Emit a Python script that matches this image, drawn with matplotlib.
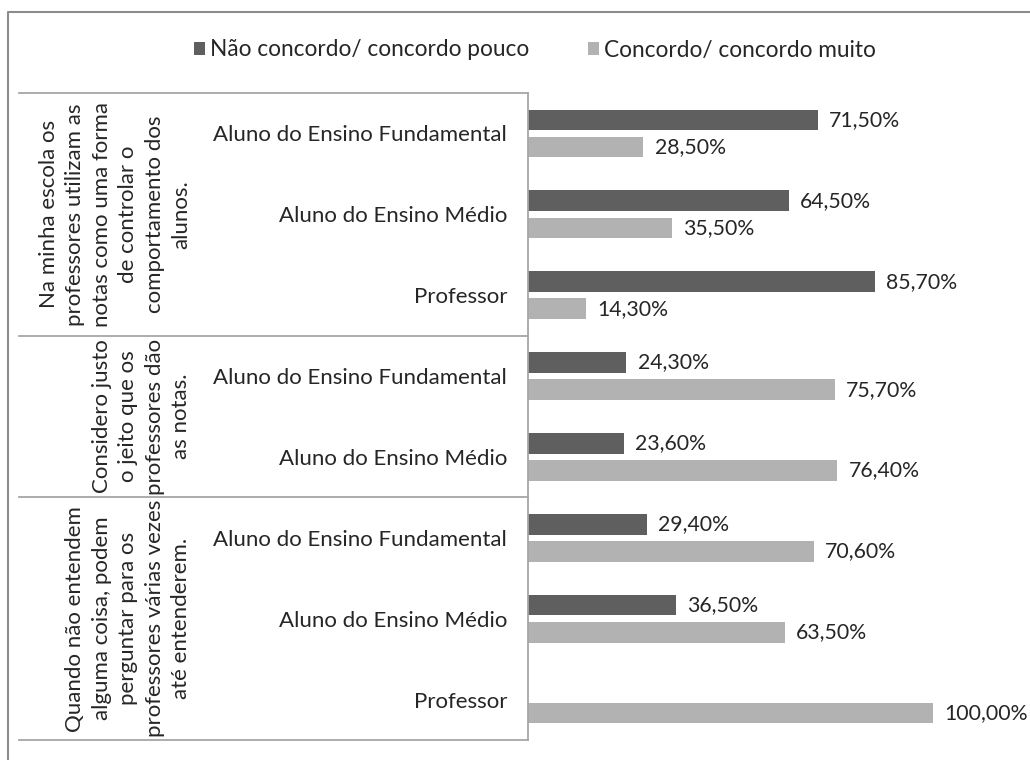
import numpy as np
import matplotlib
matplotlib.use("Agg")
import matplotlib.pyplot as plt
from matplotlib.patches import Patch
from matplotlib.lines import Line2D

# data
categories = ["Aluno do Ensino Fundamental", "Aluno do Ensino Médio", "Professor",
              "Aluno do Ensino Fundamental", "Aluno do Ensino Médio",
              "Aluno do Ensino Fundamental", "Aluno do Ensino Médio", "Professor"]
groups = ["Na minha escola os\nprofessores utilizam as\nnotas como uma forma\nde controlar o\ncomportamento dos\nalunos.",
          "Considero justo\no jeito que os\nprofessores dão\nas notas.",
          "Quando não entendem\nalguma coisa, podem\nperguntar para os\nprofessores várias vezes\naté entenderem."]
group_sizes = [3, 2, 3]
nao_concordo = [71.5, 64.5, 85.7, 24.3, 23.6, 29.4, 36.5, np.nan]
concordo = [28.5, 35.5, 14.3, 75.7, 76.4, 70.6, 63.5, 100.0]
series_names = ["Não concordo/ concordo pouco", "Concordo/ concordo muito"]

plt.rcParams['font.family'] = ['Lato', 'DejaVu Sans']
W, H = 1030, 760
fs = 16
vfs = 15.3
txt = "#262626"
dark, light = "#5f5f5f", "#b2b2b2"
linec = "#a6a6a6"

fig = plt.figure(figsize=(W / 100, H / 100), dpi=100)
ax_l, ax_r, ax_t, ax_b = 528, 1020, 93, 740
ax = fig.add_axes([ax_l / W, 1 - ax_b / H, (ax_r - ax_l) / W, (ax_b - ax_t) / H])

y = np.arange(len(categories))
h = 0.255
off = 0.168
ax.barh(y - off, nao_concordo, height=h, color=dark)
ax.barh(y + off, concordo, height=h, color=light)

xmax = 100 * (ax_r - ax_l) / 405
ax.set_xlim(0, xmax)
ax.set_ylim(len(categories) - 0.5, -0.5)

for yy, v in zip(y - off, nao_concordo):
    if not np.isnan(v):
        ax.annotate(f"{v:.2f}%".replace(".", ","), (v, yy), xytext=(8, 0),
                    textcoords="offset points", va="center", ha="left",
                    fontsize=vfs, color=txt, annotation_clip=False)
for yy, v in zip(y + off, concordo):
    ax.annotate(f"{v:.2f}%".replace(".", ","), (v, yy), xytext=(8, 0),
                textcoords="offset points", va="center", ha="left",
                fontsize=vfs, color=txt, annotation_clip=False)

ax.set_yticks(y)
ax.set_yticklabels(categories, fontsize=fs, color=txt)
ax.tick_params(axis="y", length=0, pad=15)
ax.set_xticks([])
for s in ["top", "right", "bottom"]:
    ax.spines[s].set_visible(False)
ax.spines["left"].set_color(linec)
ax.spines["left"].set_linewidth(1.3)

# category table lines and group labels
trans = ax.get_yaxis_transform()
left_frac = (19 - ax_l) / (ax_r - ax_l)
lab_frac = (191 - ax_l) / (ax_r - ax_l)
bounds = np.concatenate([[0], np.cumsum(group_sizes)]) - 0.5
for b in bounds:
    ax.add_line(Line2D([left_frac, 0], [b, b], transform=trans, color=linec,
                       lw=1.3, clip_on=False))
for g, lo, hi in zip(groups, bounds[:-1], bounds[1:]):
    ax.text(lab_frac, (lo + hi) / 2, g, transform=trans, rotation=90,
            ha="right", va="center", multialignment="center",
            fontsize=fs, color=txt, linespacing=1.4, clip_on=False)

# outer chart frame (only left and top visible)
fig.add_artist(Line2D([8 / W, 8 / W, 1], [0, 1 - 12 / H, 1 - 12 / H],
                      transform=fig.transFigure, color="#8c8c8c", lw=1.5))

handles = [Patch(facecolor=dark, edgecolor="none"), Patch(facecolor=light, edgecolor="none")]
fig.legend(handles, series_names, loc="center", bbox_to_anchor=(535 / W, 1 - 50 / H),
           ncol=2, frameon=False, fontsize=16.3, handlelength=0.5, handleheight=0.5,
           handletextpad=0.2, columnspacing=2.6, labelcolor=txt)

fig.savefig("out.png", dpi=100)
